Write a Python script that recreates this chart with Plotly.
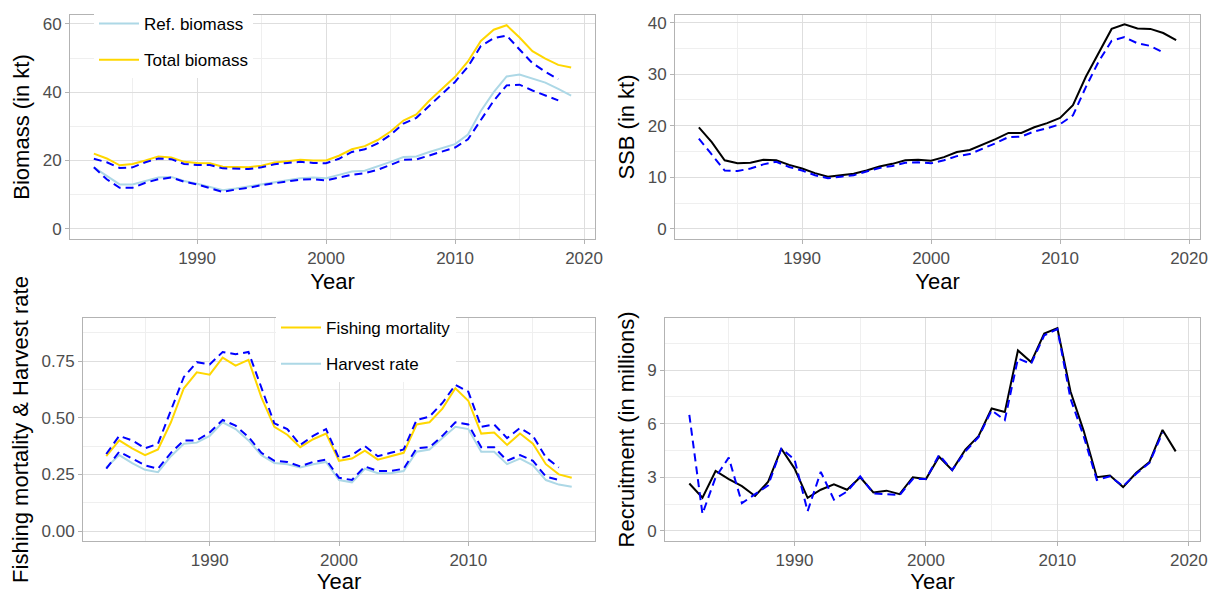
import plotly.graph_objects as go

# stock assessment summary, 4 panels
years = list(range(1982, 2020))          # 1982..2019
years_retro = list(range(1982, 2019))    # 1982..2018
years_f = list(range(1982, 2019))        # 1982..2018
years_f_retro = list(range(1982, 2018))  # 1982..2017

total_biomass = [22.0, 20.6, 18.6, 19.0, 20.0, 21.2, 20.9, 19.6, 19.3, 19.2, 18.2, 18.0, 18.0, 18.5, 19.4, 19.8,
                 20.2, 20.0, 20.0, 21.4, 23.3, 24.2, 26.0, 28.5, 31.7, 33.5, 37.5, 41.0, 44.5, 49.0, 55.0, 58.3,
                 59.6, 56.0, 52.0, 49.8, 48.0, 47.2]
total_biomass_retro = [20.5, 19.5, 17.8, 18.0, 19.5, 20.6, 20.4, 19.0, 18.7, 18.7, 17.7, 17.5, 17.5, 18.0, 18.9,
                       19.3, 19.6, 19.3, 19.2, 20.5, 22.5, 23.3, 25.0, 27.5, 30.8, 32.5, 36.0, 39.5, 43.0, 47.5,
                       53.5, 55.8, 56.6, 52.5, 48.5, 46.0, 43.8]
ref_biomass = [18.0, 15.5, 13.0, 13.0, 14.0, 15.0, 15.2, 14.0, 13.2, 12.2, 11.3, 11.8, 12.4, 13.2, 13.8, 14.2,
               14.8, 15.0, 14.8, 15.8, 16.8, 17.0, 18.2, 19.6, 21.0, 21.2, 22.5, 23.6, 24.8, 27.6, 34.5, 40.0,
               44.6, 45.2, 44.0, 42.8, 41.0, 39.0]
ref_biomass_retro = [18.0, 14.5, 12.0, 12.0, 13.5, 14.5, 15.0, 13.8, 13.0, 11.8, 10.8, 11.5, 12.0, 12.8, 13.4,
                     13.8, 14.4, 14.5, 14.2, 15.0, 15.8, 16.3, 17.3, 18.7, 20.2, 20.3, 21.5, 22.8, 23.8, 26.2,
                     32.0, 37.5, 42.0, 42.2, 40.5, 39.0, 37.6]

ssb = [19.7, 16.8, 13.3, 12.7, 12.8, 13.4, 13.3, 12.4, 11.7, 10.8, 10.1, 10.4, 10.7, 11.3, 12.1, 12.6, 13.3,
       13.4, 13.2, 13.9, 14.9, 15.3, 16.3, 17.4, 18.6, 18.6, 19.7, 20.5, 21.5, 24.0, 29.5, 34.2, 38.8, 39.7,
       38.9, 38.8, 38.0, 36.6]
ssb_retro = [17.5, 14.5, 11.3, 11.2, 11.7, 12.5, 13.0, 12.0, 11.3, 10.4, 9.8, 10.1, 10.4, 11.1, 11.8, 12.2,
             12.8, 12.9, 12.7, 13.3, 14.1, 14.5, 15.5, 16.6, 17.8, 17.9, 18.9, 19.5, 20.3, 22.0, 27.5, 32.5,
             36.5, 37.2, 36.0, 35.5, 34.2]

fishing_mortality = [0.33, 0.40, 0.365, 0.335, 0.36, 0.48, 0.63, 0.70, 0.69, 0.765, 0.73, 0.755, 0.59, 0.46,
                     0.425, 0.37, 0.405, 0.43, 0.31, 0.32, 0.355, 0.315, 0.33, 0.345, 0.47, 0.48, 0.54, 0.63,
                     0.575, 0.43, 0.435, 0.38, 0.43, 0.385, 0.295, 0.25, 0.235]
fishing_mortality_retro = [0.34, 0.42, 0.40, 0.365, 0.385, 0.53, 0.68, 0.745, 0.735, 0.79, 0.78, 0.79, 0.63,
                           0.475, 0.45, 0.38, 0.42, 0.45, 0.32, 0.335, 0.375, 0.33, 0.345, 0.36, 0.49, 0.505,
                           0.565, 0.645, 0.615, 0.46, 0.47, 0.41, 0.455, 0.42, 0.325, 0.28]
harvest_rate = [0.28, 0.335, 0.30, 0.27, 0.26, 0.33, 0.385, 0.39, 0.42, 0.48, 0.45, 0.40, 0.335, 0.30, 0.295,
                0.28, 0.295, 0.305, 0.225, 0.215, 0.275, 0.255, 0.255, 0.265, 0.35, 0.36, 0.41, 0.46, 0.45,
                0.35, 0.35, 0.295, 0.32, 0.29, 0.225, 0.205, 0.195]
harvest_rate_retro = [0.275, 0.35, 0.32, 0.29, 0.275, 0.345, 0.40, 0.40, 0.435, 0.49, 0.465, 0.415, 0.345,
                      0.31, 0.305, 0.285, 0.305, 0.315, 0.235, 0.225, 0.285, 0.265, 0.265, 0.275, 0.365, 0.37,
                      0.42, 0.48, 0.47, 0.37, 0.37, 0.31, 0.335, 0.31, 0.24, 0.225]

recruitment = [2.65, 1.85, 3.35, 2.9, 2.5, 1.95, 2.75, 4.6, 3.5, 1.85, 2.3, 2.6, 2.3, 3.0, 2.15, 2.25, 2.05,
               3.0, 2.9, 4.15, 3.4, 4.55, 5.3, 6.85, 6.65, 10.1, 9.45, 11.05, 11.35, 7.8, 5.6, 3.0, 3.1, 2.45,
               3.25, 3.85, 5.65, 4.45]
recruitment_retro = [6.5, 0.95, 3.0, 4.1, 1.55, 2.05, 2.55, 4.6, 4.0, 1.1, 3.3, 1.75, 2.2, 3.05, 2.1, 2.05,
                     2.0, 2.9, 2.9, 4.25, 3.4, 4.45, 5.25, 6.75, 6.2, 9.65, 9.35, 10.95, 11.3, 7.4, 5.3, 2.85,
                     3.05, 2.5, 3.2, 3.8, 5.5]

LIGHTBLUE = "#ADD8E6"
GOLD = "#FFD700"
BLUE = "#0000FF"
W = 1211
H = 594
FONT = "Liberation Sans"

fig = go.Figure()

def solid(x, y, color, xa, ya, name=None, legend=None, group=None):
    fig.add_trace(go.Scatter(x=x, y=y, mode="lines", line=dict(color=color, width=2),
                             xaxis=xa, yaxis=ya, name=name, showlegend=name is not None,
                             legend=legend, legendgroup=group))

def dashed(x, y, xa, ya):
    fig.add_trace(go.Scatter(x=x, y=y, mode="lines", line=dict(color=BLUE, width=2, dash="8px,5px"),
                             xaxis=xa, yaxis=ya, showlegend=False))

# panel 1 - biomass
solid(years, ref_biomass, LIGHTBLUE, "x", "y", "Ref. biomass", "legend", "a")
solid(years, total_biomass, GOLD, "x", "y", "Total biomass", "legend", "b")
dashed(years_retro, ref_biomass_retro, "x", "y")
dashed(years_retro, total_biomass_retro, "x", "y")

# panel 2 - SSB
solid(years, ssb, "black", "x2", "y2")
dashed(years_retro, ssb_retro, "x2", "y2")

# panel 3 - F & harvest rate
solid(years_f, fishing_mortality, GOLD, "x3", "y3", "Fishing mortality", "legend2", "c")
solid(years_f, harvest_rate, LIGHTBLUE, "x3", "y3", "Harvest rate", "legend2", "d")
dashed(years_f_retro, fishing_mortality_retro, "x3", "y3")
dashed(years_f_retro, harvest_rate_retro, "x3", "y3")

# panel 4 - recruitment
solid(years, recruitment, "black", "x4", "y4")
dashed(years_retro, recruitment_retro, "x4", "y4")


def xaxis_style(left, right, rng, anchor):
    return dict(domain=[left / W, right / W], range=rng, anchor=anchor, automargin=False,
                tickvals=[1990, 2000, 2010, 2020], ticks="outside", ticklen=4, tickcolor="#B3B3B3",
                tickfont=dict(size=17, color="#4D4D4D"),
                showline=True, mirror=True, linecolor="#B3B3B3", linewidth=1,
                showgrid=True, gridcolor="#DEDEDE", gridwidth=1, zeroline=False,
                minor=dict(tickvals=[1985, 1995, 2005, 2015], showgrid=True, gridcolor="#EFEFEF", gridwidth=0.7),
                title=dict(text="Year", font=dict(size=22, color="black"), standoff=6))


def yaxis_style(top, bottom, rng, ticks, minor, title, anchor, fmt=None):
    return dict(domain=[1 - bottom / H, 1 - top / H], range=rng, anchor=anchor, automargin=False,
                tickvals=ticks, tickformat=fmt, ticks="outside", ticklen=4, tickcolor="#B3B3B3",
                tickfont=dict(size=17, color="#4D4D4D"),
                showline=True, mirror=True, linecolor="#B3B3B3", linewidth=1,
                showgrid=True, gridcolor="#DEDEDE", gridwidth=1, zeroline=False,
                minor=dict(tickvals=minor, showgrid=True, gridcolor="#EFEFEF", gridwidth=0.7),
                title=dict(text=title, font=dict(size=22, color="black"), standoff=6))


fig.update_layout(
    width=W, height=H,
    margin=dict(l=0, r=0, t=0, b=0, autoexpand=False),
    paper_bgcolor="white", plot_bgcolor="white",
    font=dict(family=FONT),
    xaxis=xaxis_style(70, 595, [1980.15, 2020.85], "y"),
    yaxis=yaxis_style(15, 239, [-2.98, 62.6], [0, 20, 40, 60], [10, 30, 50], "Biomass (in kt)", "x"),
    xaxis2=xaxis_style(675, 1200, [1980.15, 2020.85], "y2"),
    yaxis2=yaxis_style(15, 239, [-1.99, 41.5], [0, 10, 20, 30, 40], [5, 15, 25, 35], "SSB (in kt)", "x2"),
    xaxis3=xaxis_style(83, 595, [1980.2, 2019.8], "y3"),
    yaxis3=yaxis_style(318, 541, [-0.044, 0.94], [0, 0.25, 0.5, 0.75], [0.125, 0.375, 0.625, 0.875],
                       "Fishing mortality & Harvest rate", "x3", ".2f"),
    xaxis4=xaxis_style(665, 1200, [1980.15, 2020.85], "y4"),
    yaxis4=yaxis_style(318, 541, [-0.57, 11.92], [0, 3, 6, 9], [1.5, 4.5, 7.5, 10.5],
                       "Recruitment (in millions)", "x4"),
    legend=dict(x=94 / W, y=1 - 6 / H, xanchor="left", yanchor="top", bgcolor="white",
                font=dict(size=17, color="black"), itemwidth=40, tracegroupgap=11,
                traceorder="grouped"),
    legend2=dict(x=276 / W, y=1 - 310 / H, xanchor="left", yanchor="top", bgcolor="white",
                 font=dict(size=17, color="black"), itemwidth=40, tracegroupgap=11,
                 traceorder="grouped"),
)

# page body has an 8px default margin, drop it so the figure sits at 0,0
fig.write_html("out.html", config={"displayModeBar": False},
               post_script="document.body.style.margin = '0';")
